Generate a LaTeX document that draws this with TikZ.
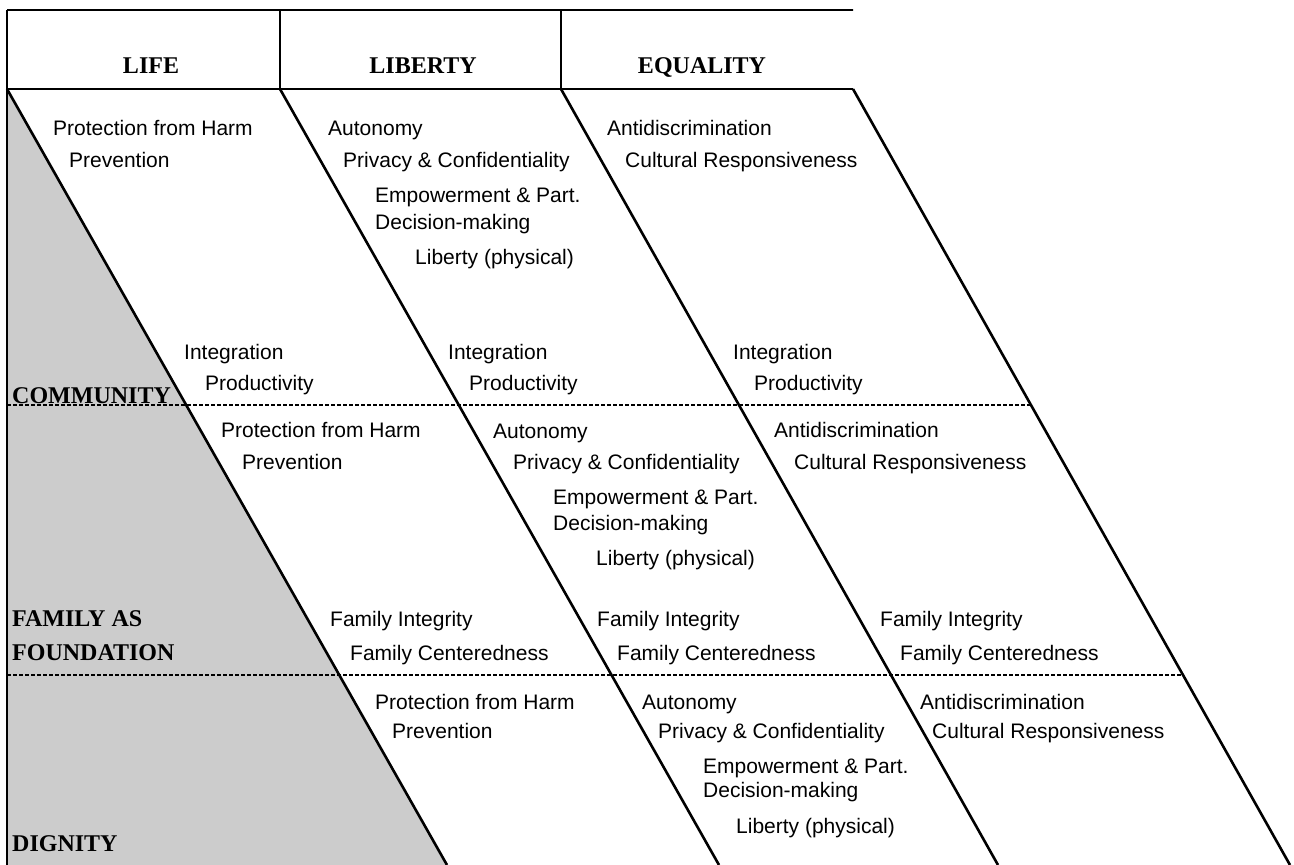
\documentclass[tikz,border=0pt]{standalone}
\usepackage{fontspec}
\setmainfont{Liberation Serif}
\newfontfamily\itemsans{Liberation Sans}
\usetikzlibrary{calc}
\newcommand{\itemfont}{\itemsans\fontsize{21}{25}\selectfont}
\newcommand{\headfont}{\fontsize{24}{28}\selectfont\bfseries}
\begin{document}
\begin{tikzpicture}[x=1pt,y=-1pt,
  rule/.style={line width=2.6pt},
  sep/.style={line width=1.3pt,dash pattern=on 4pt off 2pt},
  item/.style={anchor=base west,inner sep=0pt,font=\itemfont},
  rowlab/.style={anchor=base west,inner sep=0pt,font=\headfont},
  head/.style={anchor=base,inner sep=0pt,font=\headfont}]
\useasboundingbox (0,0) rectangle (1294,865);
\foreach \n/\a/\b in {0/7/447,1/280/719,2/561/998,3/853/1290} {
\coordinate (t\n) at (\a,89);
\coordinate (b\n) at (\b,865);
}
\coordinate (top) at (7,10);
\fill[black!20] (t0) -- (b0) -- (b0 -| t0) -- cycle;
\draw[rule] (top) rectangle (t3 |- top);
\draw[rule] (t0) -- (t3);
\draw[rule] (top) -- (b0 -| top);
\draw[rule] (t1) -- (t1 |- top);
\draw[rule] (t2) -- (t2 |- top);
\foreach \n in {0,1,2,3} {
\draw[rule] (t\n) -- (b\n);
}
\coordinate (d1) at ($(t3)!0.4072!(b3)$);
\coordinate (d2) at ($(t3)!0.7552!(b3)$);
\draw[sep] (d1 -| top) -- (d1);
\draw[sep] (d2 -| top) -- (d2);
\node[head] (life) at (151,73) {LIFE};
\node[head] (liberty) at (423,73) {LIBERTY};
\node[head] (equality) at (702,73) {EQUALITY};
\node[rowlab] (community) at (12,403) {COMMUNITY};
\node[rowlab] (familyas) at (12,626) {FAMILY AS};
\node[rowlab] (foundation) at (12,660) {FOUNDATION};
\node[rowlab] (dignity) at (12,851) {DIGNITY};
\node[item] (harmA) at (53,135) {Protection from Harm};
\node[item] (prevA) at (69,167) {Prevention};
\node[item] (autoA) at (328,135) {Autonomy};
\node[item] (privA) at (343,167) {Privacy \& Confidentiality};
\node[item] (empA) at (375,202) {Empowerment \& Part.};
\node[item] (decA) at (375,229) {Decision-making};
\node[item] (libA) at (415,264) {Liberty (physical)};
\node[item] (antiA) at (607,135) {Antidiscrimination};
\node[item] (cultA) at (625,167) {Cultural Responsiveness};
\foreach \i/\x in {1/184,2/448,3/733} {
\node[item] (integ\i) at (\x,359) {Integration};
\node[item] (prod\i) at (\x+21,390) {Productivity};
}
\node[item] (harmB) at (221,437) {Protection from Harm};
\node[item] (prevB) at (242,469) {Prevention};
\node[item] (autoB) at (493,438) {Autonomy};
\node[item] (privB) at (513,469) {Privacy \& Confidentiality};
\node[item] (empB) at (553,504) {Empowerment \& Part.};
\node[item] (decB) at (553,530) {Decision-making};
\node[item] (libB) at (596,565) {Liberty (physical)};
\node[item] (antiB) at (774,437) {Antidiscrimination};
\node[item] (cultB) at (794,469) {Cultural Responsiveness};
\foreach \i/\x in {1/330,2/597,3/880} {
\node[item] (famint\i) at (\x,626) {Family Integrity};
\node[item] (famcen\i) at (\x+20,660) {Family Centeredness};
}
\node[item] (harmC) at (375,709) {Protection from Harm};
\node[item] (prevC) at (392,738) {Prevention};
\node[item] (autoC) at (642,709) {Autonomy};
\node[item] (privC) at (658,738) {Privacy \& Confidentiality};
\node[item] (empC) at (703,773) {Empowerment \& Part.};
\node[item] (decC) at (703,797) {Decision-making};
\node[item] (libC) at (736,833) {Liberty (physical)};
\node[item] (antiC) at (920,709) {Antidiscrimination};
\node[item] (cultC) at (932,738) {Cultural Responsiveness};
\end{tikzpicture}
\end{document}
